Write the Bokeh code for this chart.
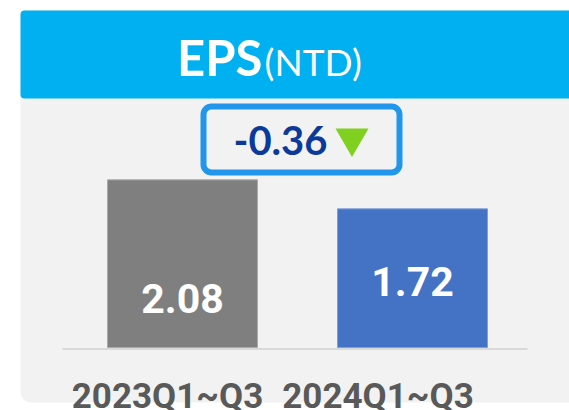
from bokeh.plotting import figure
from bokeh.models import Range1d, BoxAnnotation, Label
from bokeh.core.properties import value
from bokeh.embed import file_html
from bokeh.resources import INLINE

# ---- data ----
categories = ["2023Q1~Q3", "2024Q1~Q3"]
eps = [2.08, 1.72]
value_labels = ["2.08", "1.72"]
bar_colors = ["#7f7f7f", "#4472c4"]
bar_edges = ["#a9a9a9", "#7f9fd8"]
change_label = "-0.36"
title_main = "EPS"
title_unit = "(NTD)"

# ---- layout constants (pixels) ----
W, H = 569, 410
PX_PER_UNIT = 80.6
ZERO_Y = 347
SLOT = 230
FIRST_CENTER = 182
BAR_W = 150
BASE_FIX = 0.37  # svg baseline compensation (fraction of font size)


def bl(y, size):
    return y - BASE_FIX * size


p = figure(width=W, height=H, output_backend="svg", toolbar_location=None,
           x_range=Range1d(-FIRST_CENTER / SLOT, (W - FIRST_CENTER) / SLOT),
           y_range=Range1d(-(H - ZERO_Y) / PX_PER_UNIT, ZERO_Y / PX_PER_UNIT),
           x_axis_type=None, y_axis_type=None, min_border=0,
           outline_line_color=None, background_fill_color="white",
           border_fill_color="white")
p.grid.visible = False
p.extra_x_ranges = {"px": Range1d(0, W)}
p.extra_y_ranges = {"py": Range1d(H, 0)}

# panel and header
p.add_layout(BoxAnnotation(left=20, right=620, top=10, bottom=402,
                           x_range_name="px", y_range_name="py",
                           fill_color="#f2f2f2", fill_alpha=1, line_color=None,
                           border_radius=10, level="underlay"))
p.add_layout(BoxAnnotation(left=20, right=620, top=10, bottom=98,
                           x_range_name="px", y_range_name="py",
                           fill_color="#00b0f0", fill_alpha=1, line_color=None,
                           border_radius=4, level="underlay"))

# baseline
p.segment(x0=[62], y0=[348.5], x1=[527], y1=[348.5], x_range_name="px",
          y_range_name="py", line_color="#d9d9d9", line_width=2)

# bars
xs = list(range(len(categories)))
p.vbar(x=xs, top=eps, bottom=0, width=BAR_W / SLOT, fill_color=bar_colors,
       line_color=bar_edges, line_width=1)

# value labels inside bars
p.text(x=xs, y=[bl(313, 41), bl(296, 41)], text=value_labels, y_range_name="py",
       text_font=value("Roboto"), text_font_style="bold", text_font_size="41px",
       text_color="white", text_align="center", text_baseline="alphabetic")

# category labels
p.text(x=[167, 377.5], y=[bl(409, 35), bl(409, 35)], text=categories, x_range_name="px",
       y_range_name="py", text_font=value("Roboto"), text_font_style="bold",
       text_font_size="35px", text_color="#595959", text_align="center",
       text_baseline="alphabetic")

# title
p.add_layout(Label(x=262, y=bl(75, 49), text=title_main, x_range_name="px", y_range_name="py",
                   text_align="right", text_baseline="alphabetic", text_font="Lato",
                   text_font_style="bold", text_font_size="49px", text_color="white"))
p.add_layout(Label(x=264, y=bl(75, 37), text=title_unit, x_range_name="px", y_range_name="py",
                   text_align="left", text_baseline="alphabetic", text_font="Lato",
                   text_font_size="37px", text_color="white"))

# change box
p.add_layout(BoxAnnotation(left=203, right=399, top=106, bottom=172,
                           x_range_name="px", y_range_name="py",
                           fill_alpha=0, line_color="#2196eb", line_alpha=1,
                           line_width=6, border_radius=8))
p.add_layout(Label(x=280, y=bl(155, 40), text=change_label, x_range_name="px", y_range_name="py",
                   text_align="center", text_baseline="alphabetic", text_font="Lato",
                   text_font_style="bold", text_font_size="40px", text_color="#0b3a9b"))
p.scatter(x=[351.5], y=[137.5], marker="inverted_triangle", size=33,
          x_range_name="px", y_range_name="py", fill_color="#80d01f", line_color=None)

open("out.html", "w").write(file_html(p, INLINE))
